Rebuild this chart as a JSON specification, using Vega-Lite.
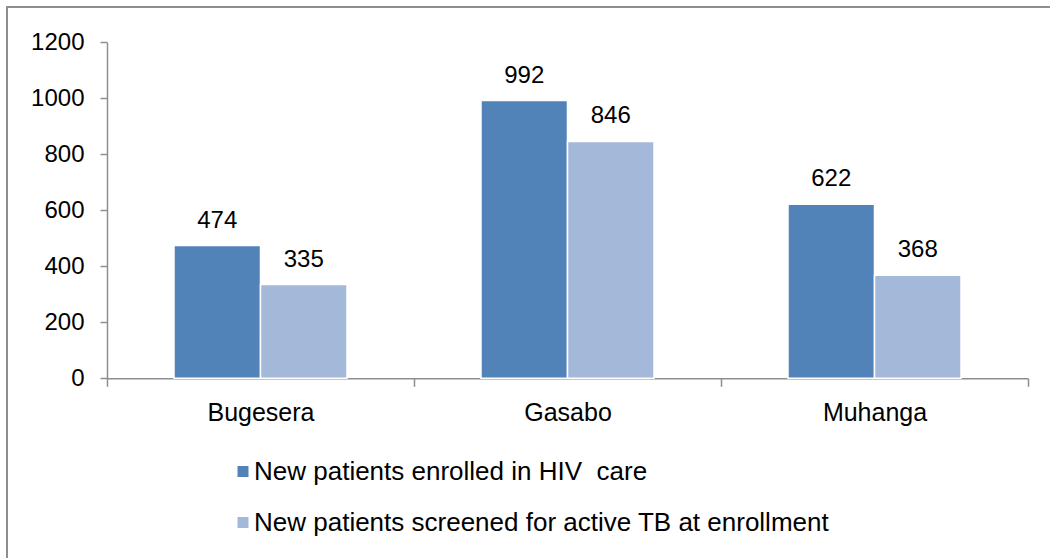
{
  "$schema": "https://vega.github.io/schema/vega-lite/v6.json",
  "width": 1045,
  "height": 553,
  "autosize": {"type": "none"},
  "padding": {"left": 7, "top": 7, "right": 0, "bottom": 0},
  "background": "white",
  "config": {
    "view": {"stroke": "#8e8e8e", "strokeWidth": 2},
    "font": "Liberation Sans"
  },
  "data": {
    "values": [
      {"district": "Bugesera", "series": "New patients enrolled in HIV\u00a0 care", "value": 474},
      {"district": "Bugesera", "series": "New patients screened for active TB at enrollment", "value": 335},
      {"district": "Gasabo", "series": "New patients enrolled in HIV\u00a0 care", "value": 992},
      {"district": "Gasabo", "series": "New patients screened for active TB at enrollment", "value": 846},
      {"district": "Muhanga", "series": "New patients enrolled in HIV\u00a0 care", "value": 622},
      {"district": "Muhanga", "series": "New patients screened for active TB at enrollment", "value": 368}
    ]
  },
  "encoding": {
    "x": {
      "field": "district",
      "type": "nominal",
      "sort": ["Bugesera", "Gasabo", "Muhanga"],
      "scale": {"range": [100, 1021], "paddingInner": 0, "paddingOuter": 0},
      "axis": {
        "title": null,
        "orient": "bottom",
        "offset": -181.7,
        "tickBand": "extent",
        "tickSize": 8,
        "labelPadding": 14,
        "labelFontSize": 25,
        "labelColor": "black",
        "labelAngle": 0,
        "domainColor": "#8e8e8e",
        "tickColor": "#8e8e8e",
        "domainWidth": 1.5,
        "tickWidth": 1.5
      }
    },
    "xOffset": {
      "field": "series",
      "type": "nominal",
      "sort": ["New patients enrolled in HIV\u00a0 care", "New patients screened for active TB at enrollment"],
      "scale": {"paddingInner": 0, "paddingOuter": 0.7746}
    },
    "y": {
      "field": "value",
      "type": "quantitative",
      "scale": {"domain": [0, 1200], "range": [371.3, 35.3], "nice": false, "zero": true},
      "axis": {
        "title": null,
        "offset": -100,
        "values": [0, 200, 400, 600, 800, 1000, 1200],
        "format": "d",
        "grid": false,
        "tickSize": 7,
        "labelPadding": 16,
        "labelFontSize": 24,
        "labelColor": "black",
        "domainColor": "#8e8e8e",
        "tickColor": "#8e8e8e",
        "domainWidth": 1.5,
        "tickWidth": 1.5
      }
    }
  },
  "layer": [
    {
      "mark": {"type": "bar", "stroke": "white", "strokeWidth": 1.5},
      "encoding": {
        "color": {
          "field": "series",
          "type": "nominal",
          "scale": {
            "domain": ["New patients enrolled in HIV\u00a0 care", "New patients screened for active TB at enrollment"],
            "range": ["#5183B8", "#A4B8D9"]
          },
          "legend": {
            "title": null,
            "orient": "none",
            "legendX": 223,
            "legendY": 451.5,
            "direction": "vertical",
            "symbolType": "square",
            "symbolSize": 121,
            "symbolStrokeWidth": 0,
            "labelFontSize": 26,
            "labelColor": "black",
            "labelOffset": -2,
            "labelLimit": 0,
            "rowPadding": 25,
            "padding": 0
          }
        }
      }
    },
    {
      "mark": {"type": "text", "dy": -18, "baseline": "alphabetic", "fontSize": 24, "color": "black"},
      "encoding": {"text": {"field": "value", "type": "quantitative"}}
    }
  ]
}
